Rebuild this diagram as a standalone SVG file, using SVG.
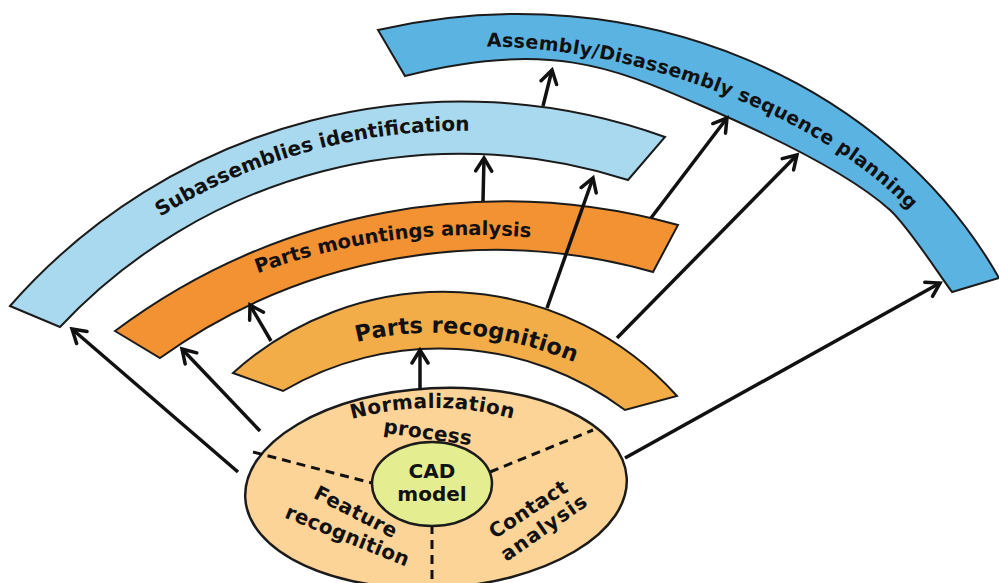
<svg xmlns="http://www.w3.org/2000/svg" xmlns:xlink="http://www.w3.org/1999/xlink" width="999" height="583" viewBox="0 0 999 583">
<style>
.band{stroke:#1b1b1b;stroke-width:2;stroke-linejoin:miter}
.bt{font-family:"DejaVu Sans",Verdana,sans-serif;font-weight:bold;fill:#111}
.et{font-family:"DejaVu Sans",Verdana,sans-serif;font-weight:bold;fill:#111;font-size:20px}
.dash{stroke:#111;stroke-width:3;stroke-dasharray:9 6;fill:none}
.arr{stroke:#111;stroke-width:3.5;fill:none;marker-end:url(#ah)}
</style>
<defs>
<marker id="ah" viewBox="-15 -10 18 20" refX="0" refY="0" markerWidth="18" markerHeight="20" markerUnits="userSpaceOnUse" orient="auto">
<path d="M-13,-8 L0,0 L-13,8" fill="none" stroke="#111" stroke-width="3.5" stroke-linecap="round" stroke-linejoin="miter"/>
</marker>
<path id="tpBlue" d="M440,49 C600,30 890,120 960,285"/>
<path id="tpSub" d="M24,334.8 A571,571 0 0 1 746.9,207.3"/>
<path id="tpMount" d="M112.6,348.9 A630,630 0 0 1 789,319.4"/>
<path id="tpPR" d="M330,350 Q460,305 610,378"/>
<path id="tpNorm" d="M335,424 Q435,392 530,424"/>
</defs>
<rect width="999" height="583" fill="#ffffff"/>

<g id="assembly-planning">
<path class="band" fill="#5BB3E2" d="M378,30 C640,-30 890,85 999,278 L952,292 C940,276 908.5,226.8 890,210 C845.6,169.8 755.1,128.7 700,105 C617.3,69.4 550.5,38.5 405,76 Z"/>
<text class="bt" font-size="19" letter-spacing="0.3"><textPath xlink:href="#tpBlue" startOffset="47">Assembly/Disassembly sequence planning</textPath></text>
</g>

<g id="subassemblies">
<path class="band" fill="#A9D9EE" d="M10,306 A600.4,600.4 0 0 1 665,137 L628,180 A548.5,548.5 0 0 0 60,327 Z"/>
<text class="bt" font-size="20"><textPath xlink:href="#tpSub" startOffset="181">Subassemblies identification</textPath></text>
</g>

<g id="parts-mountings">
<path class="band" fill="#F39233" d="M115,331 A651.5,651.5 0 0 1 678,225 L653,272 A575,575 0 0 0 160,358 Z"/>
<text class="bt" font-size="19.5"><textPath xlink:href="#tpMount" startOffset="164">Parts mountings analysis</textPath></text>
</g>

<g id="parts-recognition">
<path class="band" fill="#F2AC48" d="M233,373 A313.7,313.7 0 0 1 677,396 L625,410 A309.9,309.9 0 0 0 283,391 Z"/>
<text class="bt" font-size="22.5" letter-spacing="0.2"><textPath xlink:href="#tpPR" startOffset="28">Parts recognition</textPath></text>
</g>

<g id="core">
<ellipse cx="436" cy="488" rx="191" ry="100" transform="rotate(-3 436 488)" fill="#FDD497" stroke="#1b1b1b" stroke-width="2.5"/>
<path class="dash" d="M253,452 L372,483"/>
<path class="dash" d="M490,472 L593,430"/>
<path class="dash" d="M432,525 L432,583"/>
<text class="et" font-size="21" letter-spacing="0.4" text-anchor="middle"><textPath xlink:href="#tpNorm" startOffset="50%">Normalization</textPath></text>
<text class="et" x="427" y="439" font-size="21" text-anchor="middle" letter-spacing="0.3" transform="rotate(8 427 439)">process</text>
<text class="et" x="353" y="518" text-anchor="middle" letter-spacing="0.5" transform="rotate(27 353 518)">Feature</text>
<text class="et" x="345" y="542" font-size="21" text-anchor="middle" letter-spacing="0.3" transform="rotate(22 345 542)">recognition</text>
<text class="et" x="532" y="515" font-size="21" text-anchor="middle" letter-spacing="0.3" transform="rotate(-33 532 515)">Contact</text>
<text class="et" x="548" y="533" font-size="21" text-anchor="middle" letter-spacing="1.2" transform="rotate(-35 548 533)">analysis</text>
</g>

<g id="cad-model">
<ellipse cx="432" cy="484" rx="60" ry="42" fill="#E4ED8F" stroke="#1b1b1b" stroke-width="2.5"/>
<text class="et" x="432" y="478" text-anchor="middle">CAD</text>
<text class="et" x="432" y="501" text-anchor="middle" font-size="19">model</text>
</g>

<g id="connectors">
<path class="arr" d="M238,472 L72,329"/>
<path class="arr" d="M260,431 L182,349"/>
<path class="arr" d="M271,341 L250,305"/>
<path class="arr" d="M420,390 L420,350"/>
<path class="arr" d="M547,308 L593,178"/>
<path class="arr" d="M483,201 L484,158"/>
<path class="arr" d="M543,106 L552,70"/>
<path class="arr" d="M651,218 L727,118"/>
<path class="arr" d="M617,338 L797,155"/>
<path class="arr" d="M625,458 L940,283"/>
</g>
</svg>
